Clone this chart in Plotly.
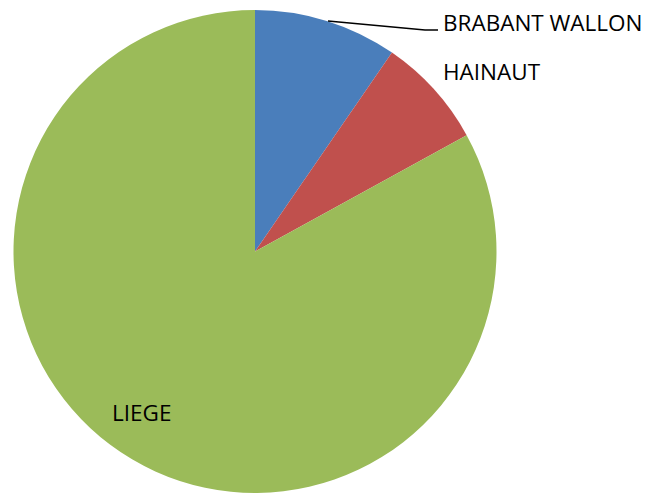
import plotly.graph_objects as go

categories = ["BRABANT WALLON", "HAINAUT", "LIEGE"]
values = [9.6, 7.4, 83.0]
colors = ["#4A7EBB", "#C0504D", "#9BBB59"]

# the page body adds an 8px margin; size the figure to fit the window
OFF = 8
W, H = 650 - OFF, 493 - OFF


def px_x(x):
    return (x - OFF) / W


def px_y(y):
    return 1 - (y - OFF) / H


fig = go.Figure(go.Pie(
    labels=categories,
    values=values,
    sort=False,
    direction="clockwise",
    rotation=0,
    marker=dict(colors=colors, line=dict(width=0)),
    textinfo="none",
    hoverinfo="label+value",
    domain=dict(x=[px_x(13), px_x(497)], y=[0, px_y(10)]),
    showlegend=False,
))

font = dict(family="Open Sans, Liberation Sans, sans-serif", size=22.5, color="#000000")

label_pos = {
    "BRABANT WALLON": (441, 22),
    "HAINAUT": (441, 72),
    "LIEGE": (110, 412),
}
for name in categories:
    px, py = label_pos[name]
    fig.add_annotation(
        text=name, xref="paper", yref="paper",
        x=px_x(px), y=px_y(py), xanchor="left", yanchor="middle",
        showarrow=False, font=font,
    )

# leader line for BRABANT WALLON
pts = [(328, 21), (425, 30), (438, 30)]
path = "M " + " L ".join(f"{px_x(x)},{px_y(y)}" for x, y in pts)
fig.add_shape(type="path", xref="paper", yref="paper", path=path,
              line=dict(color="#000000", width=1.5))

fig.update_layout(
    width=W, height=H,
    margin=dict(l=0, r=0, t=0, b=0),
    paper_bgcolor="white",
    plot_bgcolor="white",
)

fig.write_html("out.html")
